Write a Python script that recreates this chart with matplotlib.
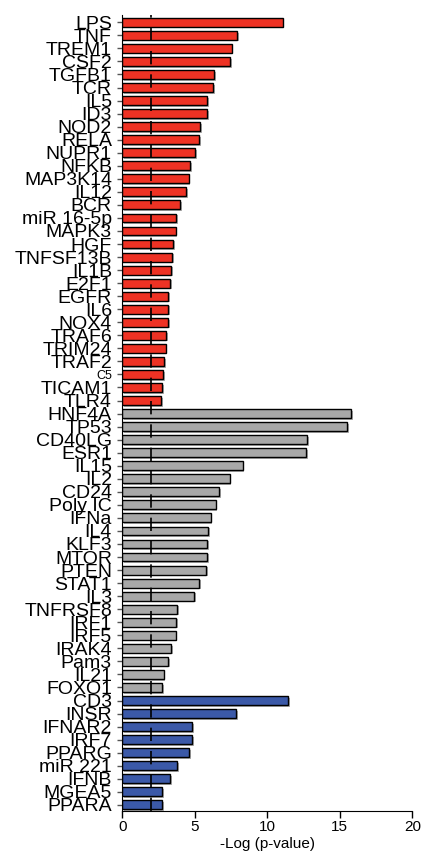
import matplotlib.pyplot as plt
import matplotlib.patheffects as pe

plt.rcParams['font.family'] = ['Liberation Sans', 'DejaVu Sans']

red_labels = ['LPS', 'TNF', 'TREM1', 'CSF2', 'TGFB1', 'TCR', 'IL5', 'ID3', 'NOD2', 'RELA',
              'NUPR1', 'NFKB', 'MAP3K14', 'IL12', 'BCR', 'miR 16-5p', 'MAPK3', 'HGF',
              'TNFSF13B', 'IL1B', 'E2F1', 'EGFR', 'IL6', 'NOX4', 'TRAF6', 'TRIM24', 'TRAF2',
              'C5', 'TICAM1', 'TLR4']
red_values = [11.06, 7.93, 7.54, 7.43, 6.35, 6.28, 5.86, 5.86, 5.38, 5.31,
              5.04, 4.69, 4.58, 4.39, 4.0, 3.72, 3.68, 3.52, 3.43, 3.38,
              3.31, 3.17, 3.17, 3.15, 3.03, 2.99, 2.9, 2.83, 2.74, 2.69]

gray_labels = ['HNF4A', 'TP53', 'CD40LG', 'ESR1', 'IL15', 'IL2', 'CD24', 'Poly IC', 'IFNa',
               'IL4', 'KLF3', 'MTOR', 'PTEN', 'STAT1', 'IL3', 'TNFRSF8', 'IRF1', 'IRF5',
               'IRAK4', 'Pam3', 'IL21', 'FOXO1']
gray_values = [15.77, 15.5, 12.76, 12.69, 8.3, 7.41, 6.67, 6.44, 6.1,
               5.93, 5.86, 5.84, 5.79, 5.31, 4.94, 3.79, 3.7, 3.68,
               3.38, 3.15, 2.85, 2.74]

blue_labels = ['CD3', 'INSR', 'IFNAR2', 'IRF7', 'PPARG', 'miR 221', 'IFNB', 'MGEA5', 'PPARA']
blue_values = [11.45, 7.86, 4.83, 4.83, 4.62, 3.79, 3.31, 2.76, 2.74]

threshold = 2.0

labels = red_labels + gray_labels + blue_labels
values = red_values + gray_values + blue_values
colors = ['#EE3224'] * len(red_labels) + ['#A8A8A8'] * len(gray_labels) + ['#3B59A8'] * len(blue_labels)
pos = list(range(len(labels)))

fig = plt.figure(figsize=(4.22, 8.55), dpi=100)
ax = fig.add_axes([0.29, 0.0518, 0.687, 0.9305])

bars = ax.barh(pos, values, height=0.68, color=colors, edgecolor='black', linewidth=1.0)
for b in bars:
    b.set_path_effects([pe.SimplePatchShadow(offset=(1.2, -1.2), shadow_rgbFace='#777777', alpha=0.6),
                        pe.Normal()])

ax.axvline(threshold, color='black', linestyle=(0, (8, 6)), linewidth=1.2, zorder=5)

ax.set_ylim(len(labels) - 0.55, -0.55)
ax.set_xlim(0, 20)
ax.set_xticks([0, 5, 10, 15, 20])
ax.set_yticks(pos)
ax.set_yticklabels(labels, fontsize=14)
for t in ax.get_yticklabels():
    if t.get_text() == 'C5':
        t.set_fontsize(9)
ax.tick_params(axis='y', length=3.5, width=1.0, color='#555555', pad=4)
ax.tick_params(axis='x', length=5, width=1.0, labelsize=11, pad=2)
ax.set_xlabel('-Log (p-value)', fontsize=11, labelpad=2)

ax.spines['top'].set_visible(False)
ax.spines['right'].set_visible(False)

fig.savefig('out.png', dpi=100)
